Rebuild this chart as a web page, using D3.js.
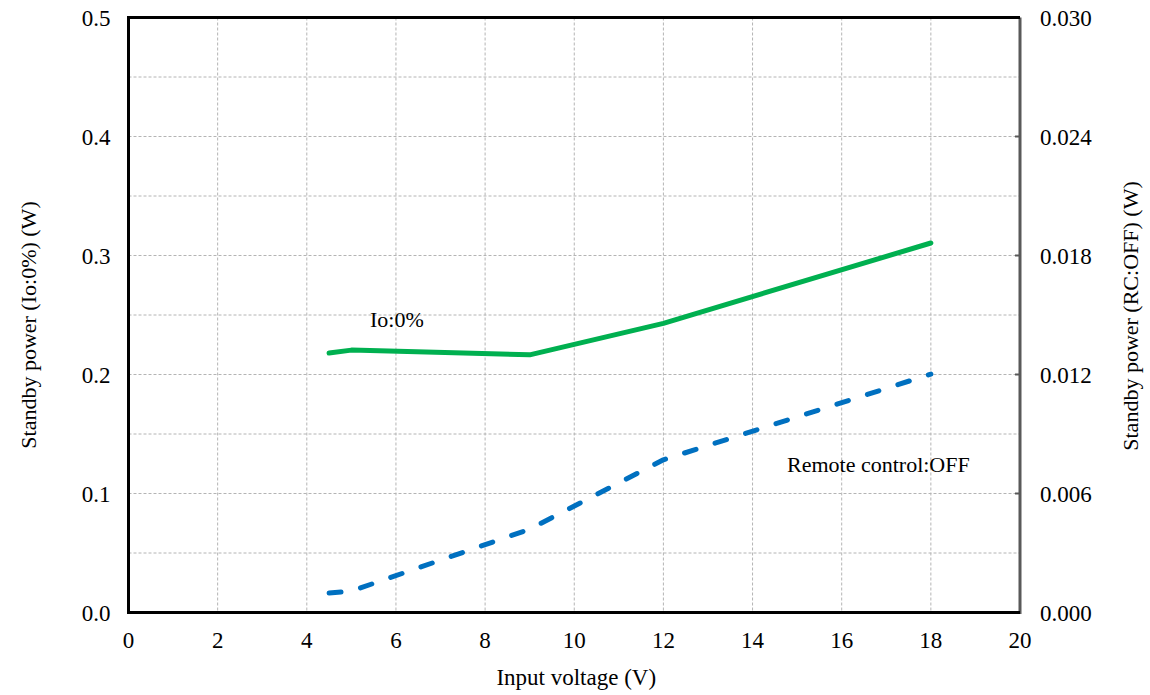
<!DOCTYPE html>
<html>
<head>
<meta charset="utf-8">
<script src="https://cdn.jsdelivr.net/npm/d3@7"></script>
<style>
  body { margin: 0; background: #fff; }
  svg text { font-family: "Liberation Serif", "Times New Roman", serif; fill: #000; }
</style>
</head>
<body>
<svg id="chart" width="1150" height="695"></svg>
<script>
// data
var voltage = [4.5, 5, 9, 12, 18];
var powerIo0 = [0.218, 0.2205, 0.2165, 0.243, 0.3105];
var powerRcOff = [0.00098, 0.00108, 0.0042, 0.0077, 0.01202];

var xTicks = [0, 2, 4, 6, 8, 10, 12, 14, 16, 18, 20];
var yLeftTicks = [0, 0.1, 0.2, 0.3, 0.4, 0.5];
var yRightTicks = [0, 0.006, 0.012, 0.018, 0.024, 0.030];
var yGrid = [0.05, 0.1, 0.15, 0.2, 0.25, 0.3, 0.35, 0.4, 0.45];

var svg = d3.select('#chart');
var pad = {t: 17.5, r: 130, b: 82.5, l: 128.5};
var W = 1150, H = 695;

var x = d3.scaleLinear().domain([0, 20]).range([pad.l, W - pad.r]);
var yL = d3.scaleLinear().domain([0, 0.5]).range([H - pad.b, pad.t]);
var yR = d3.scaleLinear().domain([0, 0.03]).range([H - pad.b, pad.t]);

// grid
var grid = svg.append('g').attr('class', 'grid');
grid.selectAll('.hgrid')
  .data(yGrid)
  .enter().append('line')
  .attr('x1', x(0)).attr('x2', x(20))
  .attr('y1', d => yL(d)).attr('y2', d => yL(d))
  .attr('stroke', '#b4b4b4').attr('stroke-width', 1)
  .attr('stroke-dasharray', '3,2');
grid.selectAll('.vgrid')
  .data(xTicks.slice(1, -1))
  .enter().append('line')
  .attr('x1', d => x(d)).attr('x2', d => x(d))
  .attr('y1', yL(0.5)).attr('y2', yL(0))
  .attr('stroke', '#b4b4b4').attr('stroke-width', 1)
  .attr('stroke-dasharray', '3,2');

// right axis tick marks (inward)
svg.append('g').selectAll('line')
  .data(yRightTicks.slice(1, -1))
  .enter().append('line')
  .attr('x1', x(20) - 5).attr('x2', x(20))
  .attr('y1', d => yR(d)).attr('y2', d => yR(d))
  .attr('stroke', '#595959').attr('stroke-width', 2);

// frame
svg.append('line')
  .attr('x1', x(20)).attr('x2', x(20))
  .attr('y1', yR(0.03)).attr('y2', yR(0) + 1.5)
  .attr('stroke', '#595959').attr('stroke-width', 3);
svg.append('line')
  .attr('x1', x(0)).attr('x2', x(20))
  .attr('y1', yL(0.5)).attr('y2', yL(0.5))
  .attr('stroke', '#000').attr('stroke-width', 3);
svg.append('line')
  .attr('x1', x(0)).attr('x2', x(20))
  .attr('y1', yL(0)).attr('y2', yL(0))
  .attr('stroke', '#000').attr('stroke-width', 3);
svg.append('line')
  .attr('x1', x(0)).attr('x2', x(0))
  .attr('y1', yL(0.5) - 1.5).attr('y2', yL(0) + 1.5)
  .attr('stroke', '#000').attr('stroke-width', 3);

// tick labels
svg.append('g').selectAll('text')
  .data(xTicks)
  .enter().append('text')
  .attr('x', d => x(d)).attr('y', H - pad.b + 35)
  .attr('text-anchor', 'middle')
  .style('font-size', '23px')
  .text(d => d);

svg.append('g').selectAll('text')
  .data(yLeftTicks)
  .enter().append('text')
  .attr('x', x(0) - 18).attr('y', d => yL(d) + 8)
  .attr('text-anchor', 'end')
  .style('font-size', '23px')
  .text(d => d3.format('.1f')(d));

svg.append('g').selectAll('text')
  .data(yRightTicks)
  .enter().append('text')
  .attr('x', x(20) + 20).attr('y', d => yR(d) + 8)
  .attr('text-anchor', 'start')
  .style('font-size', '23px')
  .text(d => d3.format('.3f')(d));

// axis titles
svg.append('text')
  .attr('x', (x(0) + x(20)) / 2 + 2).attr('y', 685)
  .attr('text-anchor', 'middle')
  .style('font-size', '23px')
  .text('Input voltage (V)');

svg.append('text')
  .attr('transform', 'translate(36, 325) rotate(-90)')
  .attr('text-anchor', 'middle')
  .style('font-size', '22px')
  .text('Standby power (Io:0%) (W)');

svg.append('text')
  .attr('transform', 'translate(1138, 316) rotate(-90)')
  .attr('text-anchor', 'middle')
  .style('font-size', '22px')
  .text('Standby power (RC:OFF) (W)');

// series
var lineL = d3.line()
  .x((d, i) => x(voltage[i]))
  .y(d => yL(d));
var lineR = d3.line()
  .x((d, i) => x(voltage[i]))
  .y(d => yR(d));

svg.append('path')
  .datum(powerIo0)
  .attr('d', lineL)
  .attr('fill', 'none')
  .attr('stroke', '#00b050')
  .attr('stroke-width', 5)
  .attr('stroke-linecap', 'round')
  .attr('stroke-linejoin', 'round');

svg.append('path')
  .datum(powerRcOff)
  .attr('d', lineR)
  .attr('fill', 'none')
  .attr('stroke', '#0070c0')
  .attr('stroke-width', 5)
  .attr('stroke-linecap', 'round')
  .attr('stroke-linejoin', 'round')
  .attr('stroke-dasharray', '12,20');

// series labels
svg.append('text')
  .attr('x', 370).attr('y', 327)
  .style('font-size', '22px')
  .text('Io:0%');

svg.append('text')
  .attr('x', 787).attr('y', 472)
  .style('font-size', '22px')
  .text('Remote control:OFF');
</script>
</body>
</html>
